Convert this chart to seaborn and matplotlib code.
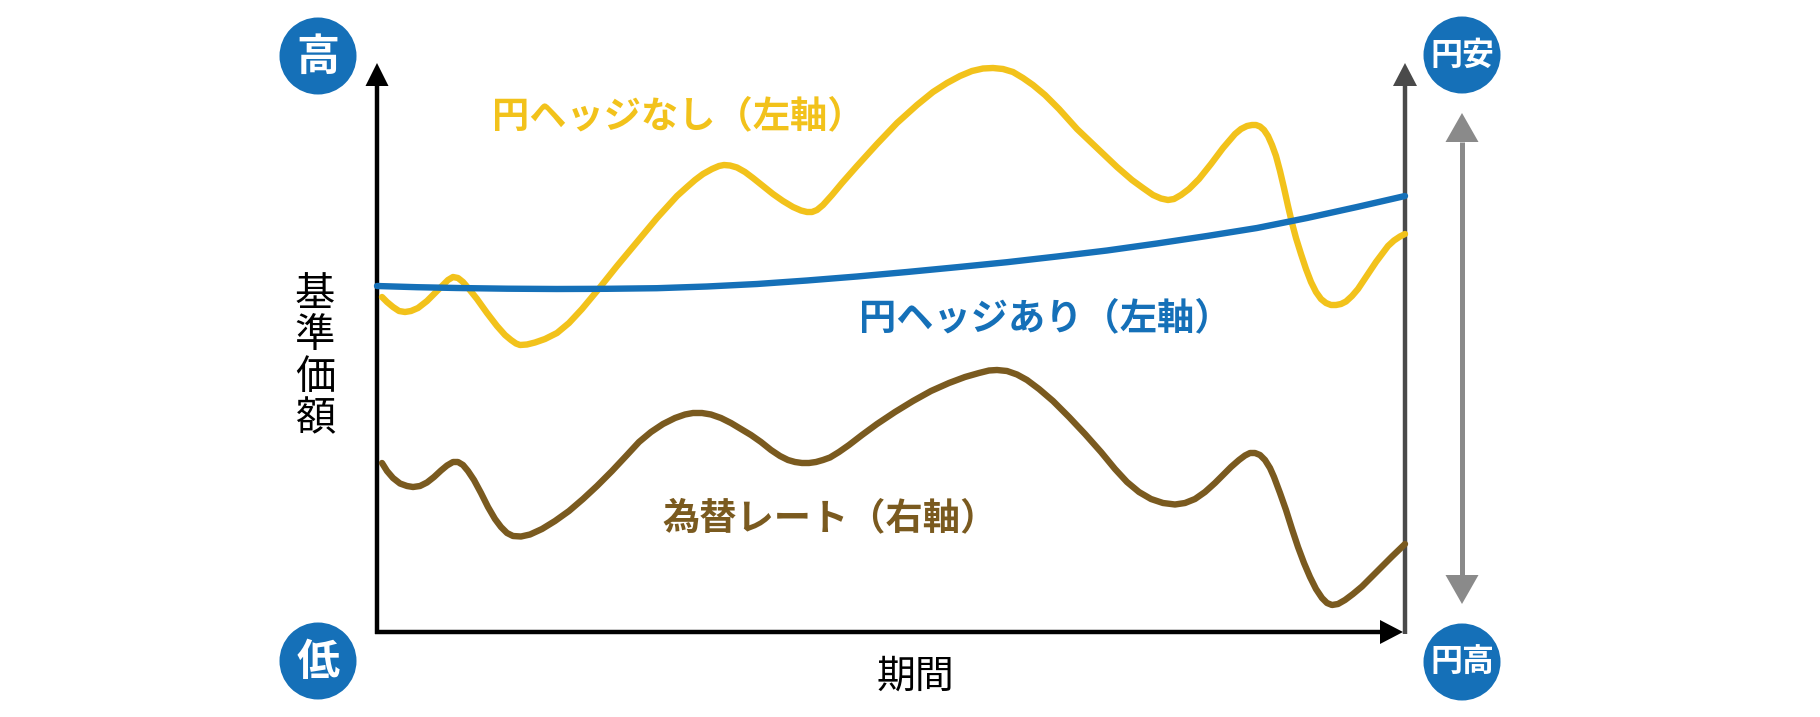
import matplotlib
matplotlib.use("Agg")
import matplotlib.pyplot as plt
import numpy as np
import pandas as pd
import seaborn as sns
from matplotlib.patches import Circle, Polygon

sns.set_theme(style="white")
plt.rcParams["font.family"] = ["Noto Sans CJK JP", "DejaVu Sans"]

# ---------------- data (period units, value units) ----------------
unhedged_x = [5, 10, 16, 22, 28, 34, 41, 50, 58, 65, 71, 76, 81, 86, 92, 100, 110, 120, 128,
              134, 139, 143, 150, 158, 168, 180, 192, 205, 220, 240, 260, 280, 300, 310, 318,
              326, 335, 342, 347, 353, 360, 368, 376, 386, 396, 406, 416, 424, 430, 435, 440,
              446, 455, 465, 480, 500, 520, 540, 556, 570, 583, 595, 606, 616, 626, 636, 646,
              656, 668, 682, 700, 720, 740, 755, 766, 776, 784, 791, 797, 804, 812, 822, 834,
              846, 858, 864, 870, 875, 879, 883, 887, 891, 895, 899, 903, 907, 911, 915, 919,
              924, 929, 934, 939, 944, 949, 954, 959, 964, 969, 975, 981, 987, 993, 999, 1005,
              1011, 1017, 1023, 1028]
unhedged_y = [335, 330, 325, 321, 320, 321, 324, 331, 339, 346, 352, 355, 354, 350, 343, 333,
              319, 306, 297, 292, 288.5, 287, 287.5, 289.5, 293, 299, 309, 323, 341, 366, 390,
              414, 436, 445, 452, 458, 463, 466, 467, 466.5, 464.5, 460, 454, 446, 438, 431,
              425, 421.5, 420, 420, 422, 427, 437, 449, 466, 488, 509, 527, 540, 549, 556, 561,
              563.5, 564, 563, 560, 554, 547, 537, 523, 503, 484, 465, 452, 444, 437, 433.5,
              432, 433, 437, 443, 453, 468, 484, 498, 503, 506, 507, 507, 505.5, 502, 496, 487,
              476, 461, 444, 426, 409, 394, 378, 363, 350, 340, 333, 329, 327, 327, 328, 330.5,
              336, 343, 352, 361, 370, 378, 386, 391.5, 395.5, 398]

hedged_x = [0, 40, 80, 130, 180, 230, 280, 330, 380, 430, 480, 530, 580, 630, 680, 730, 780,
            830, 880, 930, 980, 1028]
hedged_y = [346, 344.8, 344, 343.3, 343, 343.2, 343.8, 345.5, 348, 351.5, 355.5, 360, 364.8,
            369.8, 375.5, 381.5, 388.5, 396, 404, 414, 425, 436]

fx_x = [5, 10, 16, 23, 30, 36, 43, 50, 57, 64, 70, 76, 81, 86, 91, 97, 104, 111, 118, 124, 130,
        136, 144, 153, 165, 178, 192, 206, 220, 235, 250, 262, 274, 286, 298, 308, 316, 325,
        334, 344, 354, 364, 374, 384, 394, 403, 411, 418, 425, 432, 439, 446, 453, 462, 472,
        485, 500, 518, 536, 554, 572, 588, 602, 612, 620, 630, 640, 650, 662, 676, 692, 708,
        724, 738, 750, 762, 774, 786, 798, 808, 818, 828, 838, 846, 854, 862, 868, 873, 878,
        883, 888, 893, 897, 903, 909, 915, 921, 927, 933, 939, 945, 950, 955, 961, 968, 976,
        985, 995, 1005, 1015, 1028]
fx_y = [169, 161, 154, 148.5, 146, 145, 146, 149.5, 155, 161.5, 166.5, 170, 170, 167, 161, 152,
        139, 125, 113, 105, 99, 96, 95.5, 97.5, 103, 111, 121, 133, 146, 161, 177, 190, 200, 208,
        214, 217.5, 219, 219, 217.5, 214, 209, 203, 197, 190, 182, 176, 172, 170, 169, 169, 170,
        172, 174.5, 180, 187, 197, 208, 220, 231, 241, 249, 255, 259, 261.5, 262, 261, 257.5,
        252, 243, 231, 215, 198, 180, 163, 150, 140, 133, 129, 127.5, 129, 133, 140, 149, 157,
        165, 172, 176.5, 179, 179, 177, 172, 164, 155, 139, 122, 103, 85, 69, 55, 43, 34, 29,
        27, 28, 32, 38, 45.5, 55.5, 65.5, 75.5, 88]

labels = {
    "unhedged": "円ヘッジなし（左軸）",
    "hedged": "円ヘッジあり（左軸）",
    "fx": "為替レート（右軸）",
}
YELLOW = "#F2C21B"
BLUE = "#1570B8"
BROWN = "#7A5A1F"
CIRCLE = "#1570B8"

# ---------------- figure ----------------
W, H = 1820, 717
fig = plt.figure(figsize=(W / 100, H / 100), dpi=100)
fig.patch.set_facecolor("white")

overlay = fig.add_axes([0, 0, 1, 1])
overlay.set_xlim(0, W)
overlay.set_ylim(H, 0)
overlay.axis("off")

AX_L, AX_R, AX_B, AX_T = 377, 1405, 632, 65
ax = fig.add_axes([AX_L / W, 1 - AX_B / H, (AX_R - AX_L) / W, (AX_B - AX_T) / H])
ax.set_xlim(0, 1028)
ax.set_ylim(0, 567)
ax.axis("off")
ax.patch.set_alpha(0)
ax.set_zorder(overlay.get_zorder() + 1)

LW = 4.6
for xs, ys, col in [(unhedged_x, unhedged_y, YELLOW),
                    (hedged_x, hedged_y, BLUE),
                    (fx_x, fx_y, BROWN)]:
    df = pd.DataFrame({"period": xs, "value": ys})
    sns.lineplot(data=df, x="period", y="value", ax=ax, color=col, linewidth=LW,
                 estimator=None, sort=False, clip_on=False, antialiased=True,
                 solid_joinstyle="round", solid_capstyle="round")
ax.set_xlabel("")
ax.set_ylabel("")


def head(tip, direction, color, hl, hw):
    u = np.array(direction, float)
    u = u / np.hypot(*u)
    n = np.array([-u[1], u[0]])
    tip = np.array(tip, float)
    base = tip - u * hl
    overlay.add_patch(Polygon([tip, base + n * hw, base - n * hw], closed=True,
                              facecolor=color, edgecolor="none"))
    return base


def arrow(x0, y0, x1, y1, color, lw, hl, hw):
    base = head((x1, y1), (x1 - x0, y1 - y0), color, hl, hw)
    overlay.plot([x0, base[0]], [y0, base[1]], color=color, lw=lw, solid_capstyle="butt")


arrow(AX_L, AX_B + 2, AX_L, 63, "black", 3.2, 23, 11.5)
arrow(AX_L - 2, AX_B, 1403, AX_B, "black", 3.2, 23, 12)
arrow(AX_R, AX_B + 2, AX_R, 63, "#4a4a4a", 3.2, 23, 12)
# grey double arrow
GREY = "#8a8a8a"
b1 = head((1462, 113), (0, -1), GREY, 29, 16.5)
b2 = head((1462, 604), (0, 1), GREY, 29, 16.5)
overlay.plot([1462, 1462], [b1[1], b2[1]], color=GREY, lw=3.6, solid_capstyle="butt")

for (cx, cy, txt, fs) in [(318, 56, "高", 31), (318, 661, "低", 31),
                          (1462, 55, "円安", 23), (1462, 662, "円高", 23)]:
    overlay.add_patch(Circle((cx, cy), 38.5, facecolor=CIRCLE, edgecolor="none"))
    overlay.text(cx, cy + 1, txt, color="white", fontsize=fs, ha="center", va="center",
                 fontweight="bold")

for i, ch in enumerate("基準価額"):
    overlay.text(315, 294 + i * 41.5, ch, color="black", fontsize=29, ha="center", va="center")
overlay.text(915, 677, "期間", color="black", fontsize=28, ha="center", va="center")

overlay.text(678, 117, labels["unhedged"], color=YELLOW, fontsize=26.8, ha="center",
             va="center", fontweight="bold")
overlay.text(1045, 319, labels["hedged"], color=BLUE, fontsize=26.8, ha="center",
             va="center", fontweight="bold")
overlay.text(830, 519, labels["fx"], color=BROWN, fontsize=26.8, ha="center",
             va="center", fontweight="bold")

fig.savefig("out.png", dpi=100, facecolor="white")
